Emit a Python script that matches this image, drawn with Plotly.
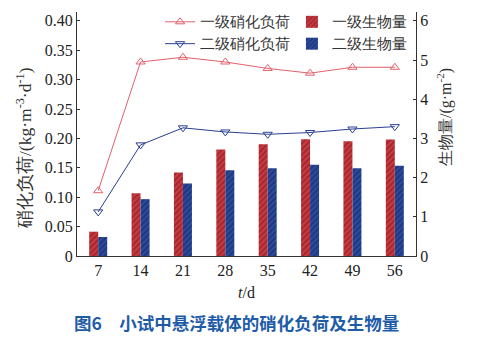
import plotly.graph_objects as go

days = ["7", "14", "21", "28", "35", "42", "49", "56"]
load_primary = [0.111, 0.330, 0.338, 0.330, 0.319, 0.311, 0.321, 0.321]
load_secondary = [0.075, 0.189, 0.218, 0.211, 0.207, 0.210, 0.216, 0.220]
bio_primary = [0.62, 1.60, 2.13, 2.72, 2.85, 2.98, 2.93, 2.97]
bio_secondary = [0.485, 1.45, 1.85, 2.19, 2.24, 2.33, 2.24, 2.30]
left_ticks = [0, 0.05, 0.10, 0.15, 0.20, 0.25, 0.30, 0.35, 0.40]
left_ticktext = ["0", "0.05", "0.10", "0.15", "0.20", "0.25", "0.30", "0.35", "0.40"]
right_ticks = [0, 1, 2, 3, 4, 5, 6]

SERIF = "Liberation Serif"
RED = "#c9383f"
BLUE = "#2a4a9c"

fig = go.Figure()

fig.add_trace(go.Bar(x=days, y=bio_primary, name="一级生物量", yaxis="y2",
                     marker=dict(color=RED, line=dict(width=0),
                                 pattern=dict(shape="/", fgcolor="#5a1015", bgcolor=RED, size=4, solidity=0.35)),
                     legend="legend2"))
fig.add_trace(go.Bar(x=days, y=bio_secondary, name="二级生物量", yaxis="y2",
                     marker=dict(color=BLUE, line=dict(width=0),
                                 pattern=dict(shape="/", fgcolor="#0d1a45", bgcolor=BLUE, size=4, solidity=0.35)),
                     legend="legend2"))
fig.add_trace(go.Scatter(x=days, y=load_primary, name="一级硝化负荷", mode="lines+markers",
                         line=dict(color="#e2606c", width=1),
                         marker=dict(symbol="triangle-up-open", size=8, color="#e2606c", line=dict(width=1)),
                         legend="legend"))
fig.add_trace(go.Scatter(x=days, y=load_secondary, name="二级硝化负荷", mode="lines+markers",
                         line=dict(color="#2b3f90", width=1),
                         marker=dict(symbol="triangle-down-open", size=8, color="#2b3f90", line=dict(width=1)),
                         legend="legend"))

fig.update_layout(
    width=477, height=337,
    margin=dict(l=77, r=61, t=12, b=81, pad=0, autoexpand=False),
    paper_bgcolor="white", plot_bgcolor="white",
    font=dict(family=SERIF, size=16, color="#222"),
    barmode="group", bargap=0.575, bargroupgap=0,
    legend=dict(x=0.245, y=1.025, xanchor="left", yanchor="top", bgcolor="rgba(0,0,0,0)",
                font=dict(size=14.5, color="#333"), tracegroupgap=0, itemwidth=30),
    legend2=dict(x=0.634, y=1.025, xanchor="left", yanchor="top", bgcolor="rgba(0,0,0,0)",
                 font=dict(size=14.5, color="#333"), tracegroupgap=0, itemwidth=30),
    xaxis=dict(type="category", range=[-0.5, 7.5], showline=True, linecolor="#333", linewidth=1.2,
               ticks="", showgrid=False, tickfont=dict(size=16), automargin=False,
               title=dict(text="<i>t</i>/d", font=dict(size=16), standoff=8)),
    yaxis=dict(range=[0, 0.415], tickvals=left_ticks, ticktext=left_ticktext, showline=True,
               linecolor="#333", linewidth=1.2, ticks="inside", ticklen=3, tickcolor="#333",
               showgrid=False, zeroline=False, tickfont=dict(size=16), automargin=False),
    yaxis2=dict(range=[0, 6.225], tickvals=right_ticks, showline=True, linecolor="#333", linewidth=1.2,
                ticks="inside", ticklen=3, tickcolor="#333", showgrid=False, zeroline=False,
                tickfont=dict(size=16), automargin=False, overlaying="y", side="right", anchor="x"),
)

pw = 477 - 77 - 61
ph = 337 - 12 - 81
def px_to_paper(xp, yp):
    return (xp - 77) / pw, (337 - 81 - yp) / ph

lx, ly = px_to_paper(24, 148)
fig.add_annotation(text="硝化负荷/(kg·m<sup>-3</sup>·d<sup>-1</sup>)", textangle=-90, x=lx, y=ly,
                   xref="paper", yref="paper", xanchor="center", yanchor="middle",
                   showarrow=False, font=dict(size=17.5, color="#333"))
rx, ry = px_to_paper(444, 117)
fig.add_annotation(text="生物量/(g·m<sup>-2</sup>)", textangle=-90, x=rx, y=ry, xref="paper", yref="paper",
                   xanchor="center", yanchor="middle",
                   showarrow=False, font=dict(size=16, color="#333"))
cx, cy = px_to_paper(236, 322)
fig.add_annotation(text="<b>图6　小试中悬浮载体的硝化负荷及生物量</b>", x=cx, y=cy, xref="paper", yref="paper",
                   xanchor="center", yanchor="middle",
                   showarrow=False, font=dict(family="Noto Sans CJK SC", size=17.5, color="#1f5ca8"))

fig.write_html("out.html")
